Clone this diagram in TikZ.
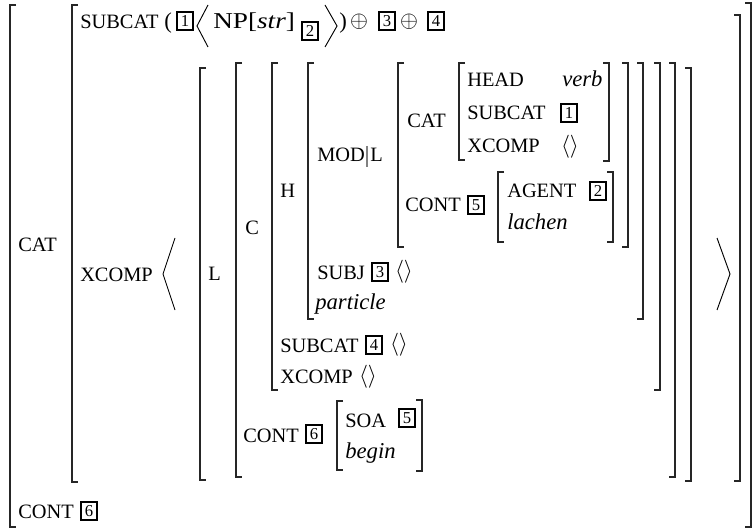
\documentclass[tikz,border=0pt]{standalone}
\usepackage{fontspec}
\setmainfont{Liberation Serif}
\newcommand\LBrk[3]{\draw[brk] (#1+6,#2) -- (#1,#2) -- (#1,#3) -- (#1+6,#3);}
\newcommand\RBrk[3]{\draw[brk] (#1-6,#2) -- (#1,#2) -- (#1,#3) -- (#1-6,#3);}
\begin{document}
\begin{tikzpicture}[x=0.75pt,y=-0.75pt,
  brk/.style={line width=1.1pt,color=black!85},
  ang/.style={line width=0.7pt},
  lab/.style={inner sep=0pt,anchor=base west,font=\fontsize{15.3}{18}\selectfont},
  txt/.style={inner sep=0pt,anchor=base west,font=\fontsize{17}{20}\selectfont},
  tag/.style={draw,line width=1.4pt,inner sep=0pt,minimum width=12pt,minimum height=13pt,font=\fontsize{12.5}{13}\selectfont},
  sym/.style={inner sep=0pt,font=\fontsize{17}{20}\selectfont}]
\useasboundingbox (0,0) rectangle (755,530);
% left brackets
\LBrk{10}{5}{527}
\LBrk{72}{5}{482}
\LBrk{200}{68}{480}
\LBrk{236}{63}{477}
\LBrk{272}{63}{390}
\LBrk{308}{63}{319}
\LBrk{398}{63}{247}
\LBrk{459}{63}{160}
\LBrk{498}{172}{242}
\LBrk{337}{401}{470}
% right brackets
\RBrk{609}{63}{161}
\RBrk{613}{172}{242}
\RBrk{628}{63}{247}
\RBrk{643}{63}{319}
\RBrk{660}{63}{390}
\RBrk{675}{63}{477}
\RBrk{691}{68}{481}
\RBrk{740}{15}{481}
\RBrk{751}{3}{527}
\RBrk{422}{400}{471}
% row 1
\node[lab] (sc1) at (80,29) {SUBCAT};
\node[txt] (lp) at (164,29) {(};
\node[tag] (t1a) at (185,21) {1};
\draw[ang] (208,5) -- (197,26) -- (208,47);
\node[txt,xscale=1.2] (np) at (213,29) {NP[\textit{str}]};
\node[tag] (t2a) at (310,31) {2};
\draw[ang] (325,5) -- (337,26) -- (325,47);
\node[txt] (rp) at (339,29) {)};
\node[sym] (op1) at (359,22) {$\oplus$};
\node[tag] (t3a) at (387,21) {3};
\node[sym] (op2) at (409,22) {$\oplus$};
\node[tag] (t4a) at (436,21) {4};
% outer labels
\node[lab] (cat0) at (18,252) {CAT};
\node[lab] (cont0) at (18,518) {CONT};
\node[tag] (t6a) at (89,511) {6};
\node[lab] (xc0) at (80,282) {XCOMP};
\draw[ang] (175,238) -- (163,274) -- (175,310);
\draw[ang] (717,238) -- (730,274) -- (717,310);
\node[lab] (l0) at (208,281) {L};
\node[lab] (c0) at (245,235) {C};
\node[lab] (h0) at (280,198) {H};
\node[lab] (mod) at (317,162) {MOD};
\draw[line width=0.8pt,gray] (367,146) -- (367,167);
\node[lab] (modl) at (370,162) {L};
\node[lab] (cat1) at (407,128) {CAT};
\node[lab] (head) at (467,87) {HEAD};
\node[txt] (verb) at (562,87) {\textit{verb}};
\node[lab] (sc2) at (467,120) {SUBCAT};
\node[tag] (t1b) at (569,113) {1};
\node[lab] (xc2) at (467,153) {XCOMP};
\node[sym] (e1) at (570,147) {$\langle\rangle$};
\node[lab] (cont5) at (405,212) {CONT};
\node[tag] (t5a) at (476,205) {5};
\node[lab] (agent) at (507,198) {AGENT};
\node[tag] (t2b) at (598,191) {2};
\node[txt] (lachen) at (507,230) {\textit{lachen}};
\node[lab] (subj) at (317,280) {SUBJ};
\node[tag] (t3b) at (380,272) {3};
\node[sym] (e2) at (404,272) {$\langle\rangle$};
\node[txt] (part) at (315,310) {\textit{particle}};
\node[lab] (sc3) at (280,352) {SUBCAT};
\node[tag] (t4b) at (374,345) {4};
\node[sym] (e3) at (399,345) {$\langle\rangle$};
\node[lab] (xc3) at (280,383) {XCOMP};
\node[sym] (e4) at (368,377) {$\langle\rangle$};
\node[lab] (cont6) at (243,442) {CONT};
\node[tag] (t6b) at (314,434) {6};
\node[lab] (soa) at (345,427) {SOA};
\node[tag] (t5b) at (407,418) {5};
\node[txt] (begin) at (345,458) {\textit{begin}};
\end{tikzpicture}
\end{document}
